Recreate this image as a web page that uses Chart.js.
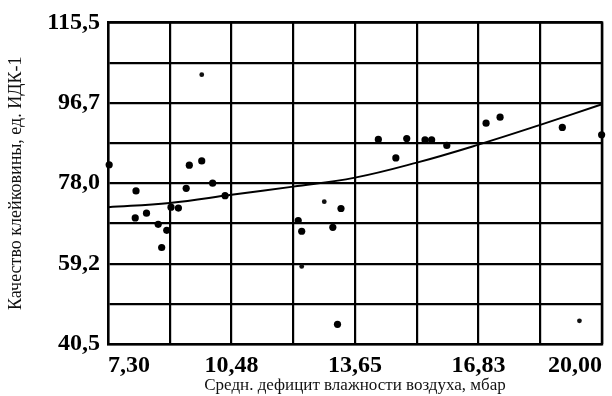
<!DOCTYPE html>
<html>
<head>
<meta charset="utf-8">
<script src="https://cdn.jsdelivr.net/npm/chart.js@4/dist/chart.umd.min.js"></script>
<style>
  html, body { margin: 0; padding: 0; background: #fff; }
  #wrap { width: 612px; height: 396px; }
</style>
</head>
<body>
<div id="wrap"><canvas id="c" width="612" height="396"></canvas></div>
<script>
// Grid positions and tick labels
const xGrid = [7.30, 8.8875, 10.475, 12.0625, 13.65, 15.2375, 16.825, 18.4125, 20.00];
const xTickLabels = ['7,30', '', '10,48', '', '13,65', '', '16,83', '', '20,00'];
const yGrid = [40.5, 49.875, 59.25, 68.625, 78.0, 87.375, 96.75, 106.125, 115.5];
const yTickLabels = ['40,5', '', '59,2', '', '78,0', '', '96,7', '', '115,5'];

// Observations: air humidity deficit (mbar) vs. gluten quality (IDK-1 units)
const obsX = [7.33, 9.39, 9.71, 8.02, 9.31, 9.99, 10.31, 8.29, 8.00, 8.92, 9.11, 8.59, 8.81, 8.68,
              13.29, 12.19, 12.28, 13.08, 13.20, 14.25, 14.98, 15.45, 15.62, 16.01, 14.70, 17.02, 17.38, 18.98, 19.99];
const obsY = [82.3, 82.2, 83.2, 76.2, 76.8, 78.0, 75.1, 71.0, 69.9, 72.4, 72.2, 68.4, 67.0, 63.0,
              72.1, 69.3, 66.8, 67.7, 45.1, 88.2, 88.4, 88.1, 88.1, 86.8, 83.9, 92.0, 93.4, 91.0, 89.3];
// Single weaker observations
const minorX = [9.71, 12.86, 12.28, 19.42];
const minorY = [103.3, 73.7, 58.6, 45.9];

// Trend curve
const trendX = [7.30, 8.8875, 10.475, 12.0625, 13.65, 15.2375, 16.825, 18.4125, 20.00];
const trendY = [72.4, 73.4, 75.3, 77.2, 79.3, 82.8, 87.0, 91.6, 96.4];

const toPts = (xs, ys) => xs.map((x, i) => ({ x: x, y: ys[i] }));

const tickFont = { family: 'Liberation Serif', size: 24, weight: 'bold' };
const titleFont = { family: 'Liberation Serif', size: 18, weight: 'normal' };

new Chart(document.getElementById('c'), {
  type: 'scatter',
  data: {
    datasets: [
      {
        type: 'line',
        data: toPts(trendX, trendY),
        borderColor: '#000',
        borderWidth: 2,
        pointRadius: 0,
        tension: 0.4,
        fill: false,
        clip: false
      },
      {
        data: toPts(obsX, obsY),
        backgroundColor: '#000',
        borderColor: '#000',
        pointRadius: 3.6,
        borderWidth: 0,
        clip: false
      },
      {
        data: toPts(minorX, minorY),
        backgroundColor: '#111',
        borderColor: '#111',
        pointRadius: 2.4,
        borderWidth: 0,
        clip: false
      }
    ]
  },
  options: {
    responsive: false,
    animation: false,
    layout: { padding: { left: 0, top: 19, right: 10, bottom: 0 } },
    plugins: { legend: { display: false }, tooltip: { enabled: false } },
    scales: {
      x: {
        type: 'linear',
        min: 7.30,
        max: 20.00,
        afterBuildTicks: s => { s.ticks = xGrid.map(v => ({ value: v })); },
        afterFit: s => { s.height = 52; },
        grid: { color: '#000', lineWidth: 2.2, drawTicks: false },
        border: { display: true, color: '#000', width: 2.5 },
        ticks: {
          autoSkip: false,
          maxRotation: 0,
          align: 'inner',
          padding: 7,
          color: '#000',
          font: tickFont,
          callback: (v, i) => xTickLabels[i]
        },
        title: {
          display: true,
          text: 'Средн. дефицит влажности воздуха, мбар',
          color: '#111',
          font: { family: 'Liberation Serif', size: 17, weight: 'normal' },
          padding: { top: 0, bottom: 0 }
        }
      },
      y: {
        type: 'linear',
        min: 40.5,
        max: 115.5,
        afterBuildTicks: s => { s.ticks = yGrid.map(v => ({ value: v })); },
        afterFit: s => { s.width = 108; },
        grid: { color: '#000', lineWidth: 2.2, drawTicks: false },
        border: { display: true, color: '#000', width: 2.5 },
        ticks: {
          autoSkip: false,
          padding: 8,
          color: '#000',
          font: tickFont,
          callback: (v, i) => yTickLabels[i]
        },
        title: {
          display: true,
          text: 'Качество клейковины, ед. ИДК-1',
          color: '#111',
          font: titleFont,
          padding: { top: 5, bottom: 0 }
        }
      }
    }
  },
  plugins: [{
    id: 'rightTopFrame',
    afterDatasetsDraw(chart) {
      // close the plot frame on the top and right sides
      const a = chart.chartArea, ctx = chart.ctx;
      ctx.save();
      ctx.strokeStyle = '#000';
      ctx.lineWidth = 2.5;
      ctx.beginPath();
      ctx.moveTo(a.left, a.top);
      ctx.lineTo(a.right, a.top);
      ctx.lineTo(a.right, a.bottom);
      ctx.stroke();
      ctx.restore();
    }
  }]
});
</script>
</body>
</html>
